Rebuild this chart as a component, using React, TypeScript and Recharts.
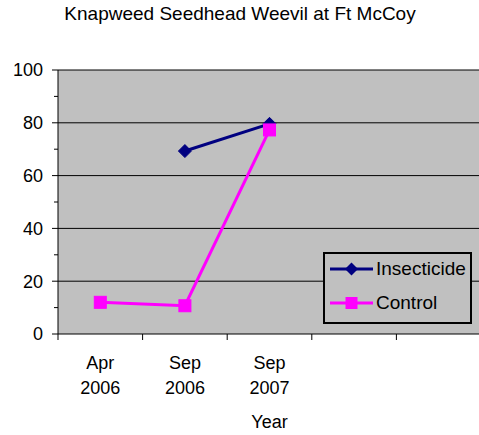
import React from 'react';
import { LineChart, Line, XAxis, YAxis, CartesianGrid, Legend, ReferenceLine } from 'recharts';

const title = 'Knapweed Seedhead Weevil at Ft McCoy';
const xTitle = 'Year';
const categories = ['Apr 2006', 'Sep 2006', 'Sep 2007', '', ''];
const insecticide: (number | null)[] = [null, 69.3, 79.6, null, null];
const control: (number | null)[] = [12, 10.7, 77.3, null, null];
const yTicks = [0, 10, 20, 30, 40, 50, 60, 70, 80, 90, 100];
const gridValues = [20, 40, 60, 80, 100];

const FONT = '"Liberation Sans", Arial, sans-serif';
const W = 490;
const H = 435;
const MARGIN = { top: 70, right: 9, left: 8, bottom: 41 };
const Y_AXIS_W = 50;
const X_AXIS_H = 60;
const PLOT_W = W - MARGIN.left - MARGIN.right - Y_AXIS_W;
const BAND = PLOT_W / categories.length;

const data = categories.map((c, i) => ({
  key: 'c' + i,
  label: c,
  Insecticide: insecticide[i],
  Control: control[i],
}));

const XTick = (props: any) => {
  const { x, y, payload, index } = props;
  const item = data.find((d) => d.key === payload.value);
  const parts = item && item.label ? item.label.split(' ') : [];
  return (
    <g>
      <line x1={x - BAND / 2} x2={x - BAND / 2} y1={y} y2={y + 6} stroke="#000" strokeWidth={1} />
      {index === categories.length - 1 && (
        <line x1={x + BAND / 2} x2={x + BAND / 2} y1={y} y2={y + 6} stroke="#000" strokeWidth={1} />
      )}
      {parts.map((p: string, i: number) => (
        <text key={i} x={x} y={y + 35 + i * 25} textAnchor="middle" fontSize={18} fontFamily={FONT} fill="#000">
          {p}
        </text>
      ))}
    </g>
  );
};

const YTick = (props: any) => {
  const { x, y, payload } = props;
  const major = payload.value % 20 === 0;
  return (
    <g>
      <line x1={x - (major ? 6 : 4)} x2={x} y1={y} y2={y} stroke="#000" strokeWidth={1} />
      {major && (
        <text x={x - 15} y={y} dy="0.36em" textAnchor="end" fontSize={18} fontFamily={FONT} fill="#000">
          {payload.value}
        </text>
      )}
    </g>
  );
};

const Diamond = (props: any) => {
  const { cx, cy, value } = props;
  if (value == null || cx == null || cy == null) return <g />;
  const r = 6.5;
  return <polygon points={`${cx},${cy - r} ${cx + r},${cy} ${cx},${cy + r} ${cx - r},${cy}`} fill="#000080" stroke="#000080" />;
};

const Square = (props: any) => {
  const { cx, cy, value } = props;
  if (value == null || cx == null || cy == null) return <g />;
  const r = 6;
  return <rect x={cx - r} y={cy - r} width={2 * r} height={2 * r} fill="#ff00ff" stroke="#ff00ff" />;
};

const LegendContent = () => {
  const rows = [
    { name: 'Insecticide', color: '#000080', shape: 'diamond' },
    { name: 'Control', color: '#ff00ff', shape: 'square' },
  ];
  return (
    <div
      style={{
        width: 149,
        height: 72,
        boxSizing: 'border-box',
        border: '2px solid #000',
        background: '#c0c0c0',
        position: 'relative',
      }}
    >
      {rows.map((r, i) => (
        <div key={r.name} style={{ position: 'absolute', left: 0, top: 17 + i * 34 - 2 - 12, height: 24, display: 'flex', alignItems: 'center' }}>
          <svg width={50} height={24} style={{ display: 'block' }}>
            <line x1={5} x2={48} y1={12} y2={12} stroke={r.color} strokeWidth={3} />
            {r.shape === 'diamond' ? (
              <polygon points="26.5,5.5 33,12 26.5,18.5 20,12" fill={r.color} />
            ) : (
              <rect x={20.5} y={6} width={12} height={12} fill={r.color} />
            )}
          </svg>
          <span style={{ fontFamily: FONT, fontSize: 19, color: '#000', marginLeft: 1, lineHeight: '24px' }}>{r.name}</span>
        </div>
      ))}
    </div>
  );
};

export default function App() {
  return (
    <div style={{ position: 'absolute', left: 0, top: 0, width: W, height: H, overflow: 'hidden' }}>
      <div
        style={{
          position: 'absolute',
          left: 0,
          width: 480,
          top: 2,
          textAlign: 'center',
          fontFamily: FONT,
          fontSize: 19,
          lineHeight: '24px',
          color: '#000',
        }}
      >
        {title}
      </div>
      <div
        style={{
          position: 'absolute',
          left: MARGIN.left + Y_AXIS_W,
          width: PLOT_W,
          top: 410,
          textAlign: 'center',
          fontFamily: FONT,
          fontSize: 18,
          lineHeight: '24px',
          color: '#000',
        }}
      >
        {xTitle}
      </div>
      <LineChart width={W} height={H} data={data} margin={MARGIN} style={{ position: 'absolute', left: 0, top: 0 }}>
        <CartesianGrid horizontal={false} vertical={false} fill="#c0c0c0" />
        {gridValues.map((v) => (
          <ReferenceLine key={v} y={v} stroke="#000" strokeWidth={1} ifOverflow="extendDomain" />
        ))}
        <XAxis
          dataKey="key"
          type="category"
          scale="band"
          height={X_AXIS_H}
          axisLine={{ stroke: '#000', strokeWidth: 1 }}
          tickLine={false}
          tickSize={0}
          tickMargin={0}
          interval={0}
          tick={<XTick />}
        />
        <YAxis
          type="number"
          domain={[0, 100]}
          ticks={yTicks}
          interval={0}
          width={Y_AXIS_W}
          axisLine={{ stroke: '#000', strokeWidth: 1 }}
          tickLine={false}
          tickSize={0}
          tickMargin={0}
          tick={<YTick />}
        />
        <Line
          dataKey="Insecticide"
          stroke="#000080"
          strokeWidth={3}
          dot={<Diamond />}
          activeDot={false}
          isAnimationActive={false}
          connectNulls={false}
        />
        <Line
          dataKey="Control"
          stroke="#ff00ff"
          strokeWidth={3}
          dot={<Square />}
          activeDot={false}
          isAnimationActive={false}
          connectNulls={false}
        />
        <Legend
          layout="horizontal"
          verticalAlign="middle"
          align="center"
          content={<LegendContent />}
          wrapperStyle={{ left: 323, top: 252, width: 149, height: 72 }}
        />
      </LineChart>
    </div>
  );
}
